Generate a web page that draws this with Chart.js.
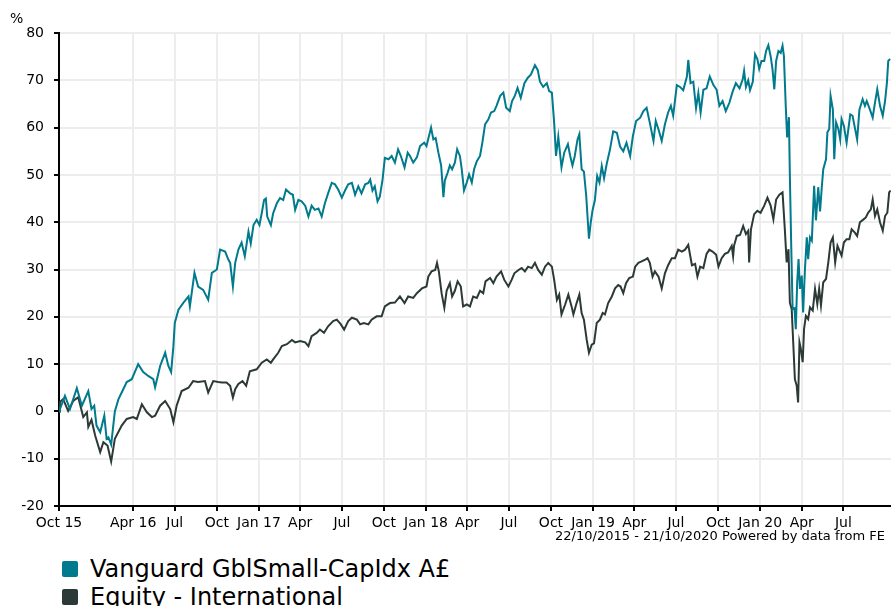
<!DOCTYPE html>
<html>
<head>
<meta charset="utf-8">
<script src="https://cdn.jsdelivr.net/npm/chart.js@4.4.1/dist/chart.umd.min.js"></script>
<style>
  html, body { margin: 0; padding: 0; background: #fff; }
  body {
    width: 891px;
    height: 606px;
    overflow: hidden;
    position: relative;
    font-family: "DejaVu Sans", Verdana, sans-serif;
    color: #000;
  }
  #chart { position: absolute; left: 0; top: 0; }
  .unit { position: absolute; left: 10px; top: 11px; font-size: 14px; line-height: 1; }
  .source { position: absolute; right: 6px; top: 529px; font-size: 13px; line-height: 1; white-space: nowrap; }
  .legend { position: absolute; left: 62px; top: 555px; font-size: 24px; }
  .legend-item { display: flex; align-items: center; height: 28px; line-height: 28px; white-space: nowrap; }
  .swatch { width: 16px; height: 16px; border-radius: 2px; margin-right: 12px; }
</style>
</head>
<body>
<canvas id="chart" width="891" height="530"></canvas>
<div class="unit">%</div>
<div class="source">22/10/2015 - 21/10/2020 Powered by data from FE</div>
<div class="legend" id="legend"></div>
<script>
const FONT = "'DejaVu Sans', Verdana, sans-serif";
const TEAL = "#007a8c";
const DARK = "#2c3a37";

const SERIES_NAMES = ["Vanguard GblSmall-CapIdx A£", "Equity - International"];

// x = days since 22/10/2015
const LAST_DAY = 1818;
const TICK_DAYS = [0, 162, 253, 345, 437, 527, 618, 710, 802, 892, 983, 1075, 1167, 1257, 1348, 1440, 1532, 1623, 1714];
const TICK_LABELS = ["Oct 15", "Apr 16", "Jul", "Oct", "Jan 17", "Apr", "Jul", "Oct", "Jan 18", "Apr", "Jul", "Oct", "Jan 19", "Apr", "Jul", "Oct", "Jan 20", "Apr", "Jul"];

const smallCapDays = [
  0, 2, 13, 24, 39, 50, 64, 71, 77, 82,
  90, 99, 104, 108, 114, 122, 130, 137, 148, 159,
  173, 184, 195, 206, 210, 221, 232, 239, 245, 250,
  253, 261, 272, 283, 286, 296, 304, 315, 326, 334,
  345, 352, 363, 370, 374, 380, 385, 392, 399, 406,
  414, 419, 425, 432, 438, 443, 448, 452, 455, 463,
  468, 476, 483, 490, 496, 505, 511, 516, 523, 530,
  538, 545, 552, 559, 567, 574, 581, 588, 596, 603,
  610, 618, 625, 632, 640, 647, 654, 661, 669, 676,
  680, 685, 690, 696, 701, 707, 712, 720, 727, 734,
  741, 747, 755, 762, 767, 774, 782, 789, 798, 803,
  813, 818, 823, 829, 835, 840, 843, 849, 854, 859,
  865, 870, 876, 880, 885, 891, 896, 902, 907, 913,
  920, 925, 931, 938, 944, 951, 956, 964, 971, 977,
  985, 990, 996, 1002, 1009, 1017, 1024, 1031, 1040, 1046,
  1051, 1058, 1066, 1071, 1077, 1082, 1086, 1091, 1098, 1104,
  1112, 1117, 1122, 1127, 1133, 1137, 1142, 1147, 1152, 1158,
  1162, 1166, 1171, 1176, 1181, 1186, 1191, 1197, 1204, 1211,
  1219, 1226, 1233, 1240, 1248, 1254, 1261, 1270, 1277, 1284,
  1291, 1299, 1304, 1310, 1317, 1324, 1331, 1337, 1342, 1350,
  1357, 1364, 1372, 1375, 1380, 1386, 1392, 1397, 1402, 1408,
  1415, 1422, 1430, 1437, 1443, 1450, 1457, 1465, 1472, 1479,
  1487, 1494, 1497, 1501, 1506, 1510, 1516, 1521, 1526, 1530,
  1535, 1541, 1545, 1550, 1555, 1559, 1563, 1567, 1572, 1577,
  1581, 1584, 1588, 1591, 1595, 1597, 1600, 1603, 1607, 1610,
  1613, 1616, 1619, 1623, 1626, 1630, 1634, 1637, 1641, 1645,
  1650, 1654, 1659, 1663, 1667, 1670, 1676, 1679, 1683, 1686,
  1691, 1694, 1698, 1703, 1707, 1710, 1715, 1721, 1729, 1734,
  1739, 1744, 1749, 1756, 1761, 1765, 1772, 1778, 1783, 1788,
  1794, 1800, 1805, 1809, 1812, 1816
];
const smallCapReturns = [
  0, 0.5, 3.3, 0.5, 4.9, 1.2, 4.3, 0.5, 1.2, -3,
  -4.4, -0.9, -5.8, -5.5, -7, 0, 2.6, 4, 6.2, 6.8,
  10, 8.3, 7.5, 6.8, 5.1, 9.6, 12.4, 9.6, 8.3, 13.8,
  18.7, 21.5, 23, 24.3, 22.2, 29.3, 26.4, 25.7, 23.6, 29.3,
  30, 34.2, 33.8, 32.1, 31.4, 26.4, 31.4, 34.2, 35.7, 32.8,
  38, 35.5, 39.4, 40.5, 39.4, 41.9, 44.7, 45, 41.2, 39.4,
  41.9, 44, 45.1, 44.7, 46.9, 46.1, 45.8, 42.6, 44.7, 44.4,
  43.5, 41.2, 43.5, 42.6, 42.9, 41.2, 44, 46.1, 48.3, 48,
  46.9, 45.2, 46.7, 48, 48.3, 45.8, 47.6, 46.1, 48, 48.3,
  49, 46.7, 47.6, 44.4, 45.4, 49, 53.6, 53.3, 54, 52.6,
  55.4, 54, 51.6, 54.7, 54, 52.6, 53.7, 56.1, 56.8, 56.1,
  60, 57.5, 57.8, 54.7, 52, 45.3, 48.8, 50.4, 52, 51.2,
  52.6, 55.4, 54, 51.2, 46.7, 48.4, 50.1, 48.4, 51.2, 52.9,
  54, 56.8, 60.7, 61.7, 63.2, 63.5, 64.6, 66.7, 67.4, 64.2,
  63.5, 65.6, 66.7, 68.4, 66.3, 69.4, 70.5, 71.2, 73.2, 72.2,
  69.7, 68.6, 69.4, 67.7, 67.4, 61, 54, 58.1, 51.6, 54.7,
  56.5, 54, 52, 54, 57.5, 58.6, 51.2, 50.7, 45.6, 36.5,
  40, 42.6, 44.7, 49.8, 48.4, 51.9, 49.3, 52.4, 55.4, 59.2,
  58.9, 56, 55, 56.8, 54, 58.2, 61.4, 62.1, 63.5, 64.2,
  61, 57.2, 61.4, 59.6, 57.2, 60.7, 63.2, 64.6, 62.5, 69,
  68.6, 67.9, 70.8, 74.3, 69.4, 69.7, 64.1, 67.3, 63.2, 68,
  68.3, 70.8, 69, 68, 64.6, 65.6, 63.5, 65.3, 67.6, 69.4,
  68.3, 70.2, 72, 68.6, 70, 67.9, 69.7, 75.5, 74.5, 72.4,
  74.1, 74.1, 76.2, 77.4, 75.1, 72.4, 68.1, 74.1, 76.2, 75.8,
  77.3, 75.1, 64.6, 57.9, 62.2, 49.8, 35, 21.6, 21.8, 17.4,
  27.3, 32.2, 25.9, 28.7, 20.9, 30.1, 36.8, 32.2, 36.8, 36.1,
  47.7, 40.4, 47.4, 42.3, 47.7, 51.2, 53.3, 59, 59.7, 66.7,
  63.8, 53.3, 61.1, 59.7, 57.5, 61.8, 60.4, 56.8, 62.8, 62.5,
  60, 57.5, 63.8, 66, 64.6, 65.6, 63.8, 62.1, 65.3, 68.1,
  64.6, 62.5, 65.6, 69.4, 74.1, 74.5
];

const sectorDays = [
  0, 2, 9, 20, 31, 42, 53, 61, 64, 71,
  79, 90, 97, 106, 114, 122, 137, 148, 162, 170,
  181, 192, 203, 210, 221, 232, 243, 250, 257, 268,
  283, 293, 304, 319, 326, 337, 348, 356, 366, 374,
  380, 385, 392, 401, 409, 417, 432, 443, 454, 463,
  468, 479, 487, 498, 509, 516, 527, 538, 545, 552,
  563, 570, 579, 588, 599, 607, 616, 623, 632, 640,
  651, 658, 666, 676, 683, 694, 705, 712, 723, 734,
  745, 755, 763, 774, 782, 793, 803, 807, 814, 822,
  826, 830, 836, 842, 847, 854, 859, 865, 871, 878,
  883, 891, 898, 905, 913, 920, 927, 932, 942, 949,
  956, 966, 973, 982, 989, 995, 1004, 1011, 1018, 1025,
  1033, 1040, 1047, 1055, 1062, 1069, 1077, 1082, 1088, 1093,
  1098, 1106, 1113, 1120, 1124, 1131, 1137, 1142, 1147, 1153,
  1158, 1164, 1169, 1175, 1182, 1188, 1193, 1200, 1208, 1215,
  1222, 1227, 1233, 1239, 1246, 1254, 1259, 1266, 1273, 1281,
  1286, 1291, 1297, 1302, 1310, 1317, 1324, 1331, 1339, 1346,
  1353, 1361, 1368, 1375, 1383, 1390, 1395, 1401, 1408, 1415,
  1421, 1428, 1436, 1441, 1448, 1455, 1462, 1470, 1473, 1475,
  1481, 1488, 1495, 1501, 1506, 1508, 1512, 1519, 1526, 1533,
  1541, 1548, 1555, 1561, 1567, 1574, 1581, 1586, 1590, 1594,
  1597, 1601, 1605, 1608, 1612, 1615, 1618, 1621, 1625, 1628,
  1632, 1637, 1641, 1647, 1652, 1657, 1661, 1665, 1670, 1676,
  1681, 1686, 1691, 1696, 1701, 1707, 1710, 1715, 1721, 1727,
  1732, 1739, 1744, 1750, 1758, 1763, 1768, 1774, 1778, 1783,
  1788, 1794, 1800, 1805, 1810, 1814, 1817
];
const sectorReturns = [
  0, 2, 2.6, 0.1, 2.2, 3, -1.2, -0.2, -3.3, -1.8,
  -5.1, -8.6, -6.5, -7.2, -10.6, -5.8, -3, -1.6, -1.2, -1.6,
  1.5, -0.2, -1.2, -0.9, 1.2, 2.2, 0.5, -2.3, 1.2, 4.3,
  5, 6.4, 6.2, 6.4, 4, 6.4, 6.2, 6.1, 6.1, 5.4,
  2.9, 4.7, 5.8, 6.4, 5.4, 8.5, 8.9, 10.3, 11, 10.3,
  11, 12.4, 13.8, 14.2, 15.1, 14.6, 14.9, 14.6, 13.8, 15.9,
  16.6, 17.3, 16.6, 18, 19.1, 19.4, 18.4, 17.3, 19.1, 19.8,
  19.4, 18.4, 18.7, 18.4, 19.4, 20.1, 20.1, 22.2, 22.9, 23,
  24.3, 22.9, 24.3, 24, 25, 26, 26.4, 28.5, 29.6, 29.9,
  31.4, 29.6, 25, 21.9, 25.5, 27.1, 24.3, 25.5, 27.5, 26.4,
  22.2, 22.6, 22.2, 24.3, 24, 25.5, 25, 27.5, 28.2, 27.1,
  28.5, 29.6, 27.8, 26.4, 27.8, 29.2, 29.9, 30.3, 29.6, 30.6,
  30.3, 31.4, 29.9, 28.9, 30.6, 31.4, 30.6, 27.8, 23.6, 24.7,
  20.5, 22.6, 24.7, 22.2, 20.5, 22.9, 24.7, 20.8, 19.4, 15.2,
  12.4, 14.1, 14.4, 18.7, 19.4, 20.8, 20.5, 22.9, 24.3, 26,
  26.7, 26.4, 25, 27.1, 28.2, 28.5, 30.6, 31.4, 31.7, 32.1,
  32.4, 31.4, 28.5, 29.6, 28.5, 26, 29.2, 30.9, 32.4, 32.4,
  34.2, 33.8, 34.2, 35.2, 30.9, 31.2, 28.5, 30.6, 30.3, 33.3,
  34.2, 33.8, 33.1, 30.6, 32.4, 33.3, 33.6, 35, 32.8, 35,
  37.1, 37.3, 39.2, 37.5, 38.2, 31.5, 38.5, 41.7, 42.4, 42,
  43.5, 45.2, 43.5, 40.6, 44.8, 45.8, 46.3, 38.5, 31.5, 34.3,
  23, 21.6, 13.2, 6.8, 5.4, 1.9, 14.6, 13.2, 10.4, 17.4,
  20.2, 19.5, 22, 21.3, 25.9, 22.7, 25.9, 22.4, 27.3, 28,
  31.5, 35.7, 36.8, 31.5, 35, 33.6, 32.9, 35.7, 36.4, 36.4,
  38.5, 37.8, 37.1, 40, 40.6, 41, 42, 42.7, 44.8, 41.3,
  42.7, 40, 38.2, 41.3, 42, 46.3, 46.7
];

function toPoints(days, values) {
  return days.map((d, i) => ({ x: d, y: values[i] }));
}

function renderLegend(names, colors) {
  const legend = document.getElementById("legend");
  names.forEach((name, i) => {
    const item = document.createElement("div");
    item.className = "legend-item";
    item.innerHTML = `<span class="swatch" style="background:${colors[i]}"></span><span>${name}</span>`;
    legend.appendChild(item);
  });
}

const gridStyle = {
  color: "#ededed",
  lineWidth: 2,
  drawTicks: true,
  tickColor: "#000",
  tickLength: 5,
  tickWidth: 2,
};

new Chart(document.getElementById("chart"), {
  type: "line",
  data: {
    datasets: [
      {
        label: SERIES_NAMES[0],
        data: toPoints(smallCapDays, smallCapReturns),
        borderColor: TEAL,
        borderWidth: 2,
        pointRadius: 0,
        tension: 0,
        fill: false,
      },
      {
        label: SERIES_NAMES[1],
        data: toPoints(sectorDays, sectorReturns),
        borderColor: DARK,
        borderWidth: 2,
        pointRadius: 0,
        tension: 0,
        fill: false,
      },
    ],
  },
  options: {
    responsive: false,
    animation: false,
    devicePixelRatio: 1,
    layout: { padding: { top: 33, right: 0, bottom: 0, left: 0 } },
    plugins: { legend: { display: false }, tooltip: { enabled: false } },
    scales: {
      x: {
        type: "linear",
        min: 0,
        max: LAST_DAY,
        afterBuildTicks: (scale) => {
          scale.ticks = TICK_DAYS.map((v) => ({ value: v }));
        },
        afterFit: (scale) => {
          scale.height = 24;
        },
        ticks: {
          autoSkip: false,
          maxRotation: 0,
          padding: 4,
          color: "#000",
          font: { family: FONT, size: 14 },
          callback: (value, index) => TICK_LABELS[index],
        },
        grid: gridStyle,
        border: { color: "#000", width: 2 },
      },
      y: {
        min: -20,
        max: 80,
        afterFit: (scale) => {
          scale.width = 59;
        },
        ticks: {
          stepSize: 10,
          padding: 10,
          color: "#000",
          font: { family: FONT, size: 14 },
        },
        grid: gridStyle,
        border: { color: "#000", width: 2 },
      },
    },
  },
});

renderLegend(SERIES_NAMES, [TEAL, DARK]);
</script>
</body>
</html>
